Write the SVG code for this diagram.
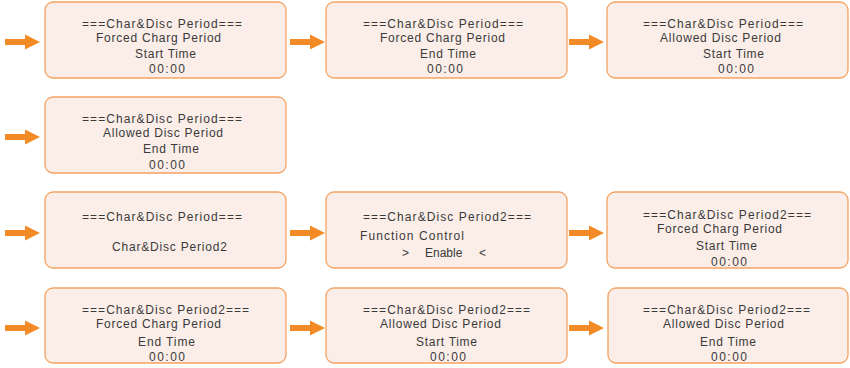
<svg xmlns="http://www.w3.org/2000/svg" xmlns:xlink="http://www.w3.org/1999/xlink" width="850" height="368" viewBox="0 0 850 368">
<style>
.box{fill:#fbeee9;stroke:#f5a362;stroke-width:1.3}
.t{font-family:"Liberation Sans",Arial,sans-serif;font-size:12px;fill:#3a3a3a}
.arr{fill:#f28a25}
</style>
<defs>
<path id="arr" d="M0,-3 H20 V-7.5 L35,0 L20,7.5 V3 H0 Z"/>
</defs>
<rect width="850" height="368" fill="#ffffff"/>
<g id="connectors" class="arr">
<use xlink:href="#arr" x="5" y="42"/>
<use xlink:href="#arr" x="290" y="42"/>
<use xlink:href="#arr" x="569" y="42"/>
<use xlink:href="#arr" x="5" y="137"/>
<use xlink:href="#arr" x="5" y="233"/>
<use xlink:href="#arr" x="290" y="233"/>
<use xlink:href="#arr" x="569" y="233"/>
<use xlink:href="#arr" x="5" y="328"/>
<use xlink:href="#arr" x="290" y="328"/>
<use xlink:href="#arr" x="569" y="328"/>
</g>
<g id="node1">
<rect class="box" x="45" y="2" width="241" height="76" rx="8"/>
<text class="t" x="82" y="28" textLength="160">===Char&amp;Disc Period===</text>
<text class="t" x="96" y="42" textLength="125">Forced Charg Period</text>
<text class="t" x="135" y="58" textLength="61">Start Time</text>
<text class="t" x="149" y="73" textLength="36">00:00</text>
</g>
<g id="node2">
<rect class="box" x="326" y="2" width="241" height="76" rx="8"/>
<text class="t" x="363" y="28" textLength="160">===Char&amp;Disc Period===</text>
<text class="t" x="380" y="42" textLength="125">Forced Charg Period</text>
<text class="t" x="420" y="58" textLength="56">End Time</text>
<text class="t" x="427" y="73" textLength="36">00:00</text>
</g>
<g id="node3">
<rect class="box" x="607" y="2" width="241" height="76" rx="8"/>
<text class="t" x="643" y="28" textLength="160">===Char&amp;Disc Period===</text>
<text class="t" x="660" y="42" textLength="121">Allowed Disc Period</text>
<text class="t" x="703" y="58" textLength="61">Start Time</text>
<text class="t" x="718" y="73" textLength="36">00:00</text>
</g>
<g id="node4">
<rect class="box" x="45" y="97" width="241" height="76" rx="8"/>
<text class="t" x="82" y="123" textLength="160">===Char&amp;Disc Period===</text>
<text class="t" x="103" y="137" textLength="120">Allowed Disc Period</text>
<text class="t" x="143" y="153" textLength="56">End Time</text>
<text class="t" x="149" y="169" textLength="36">00:00</text>
</g>
<g id="node5">
<rect class="box" x="45" y="192" width="241" height="76" rx="8"/>
<text class="t" x="82" y="221" textLength="160">===Char&amp;Disc Period===</text>
<text class="t" x="112" y="251" textLength="115">Char&amp;Disc Period2</text>
</g>
<g id="node6">
<rect class="box" x="326" y="192" width="241" height="76" rx="8"/>
<text class="t" x="363" y="221" textLength="168">===Char&amp;Disc Period2===</text>
<text class="t" x="360" y="240" textLength="104">Function Control</text>
<text class="t" y="257"><tspan x="402">&gt;</tspan><tspan x="425">Enable</tspan><tspan x="479">&lt;</tspan></text>
</g>
<g id="node7">
<rect class="box" x="607" y="192" width="241" height="76" rx="8"/>
<text class="t" x="643" y="219" textLength="168">===Char&amp;Disc Period2===</text>
<text class="t" x="657" y="233" textLength="125">Forced Charg Period</text>
<text class="t" x="696" y="250" textLength="61">Start Time</text>
<text class="t" x="711" y="266" textLength="36">00:00</text>
</g>
<g id="node8">
<rect class="box" x="45" y="288" width="241" height="75" rx="8"/>
<text class="t" x="82" y="314" textLength="167">===Char&amp;Disc Period2===</text>
<text class="t" x="96" y="328" textLength="125">Forced Charg Period</text>
<text class="t" x="138" y="346" textLength="57">End Time</text>
<text class="t" x="149" y="361" textLength="36">00:00</text>
</g>
<g id="node9">
<rect class="box" x="326" y="288" width="241" height="75" rx="8"/>
<text class="t" x="363" y="314" textLength="167">===Char&amp;Disc Period2===</text>
<text class="t" x="380" y="328" textLength="121">Allowed Disc Period</text>
<text class="t" x="416" y="346" textLength="61">Start Time</text>
<text class="t" x="430" y="361" textLength="36">00:00</text>
</g>
<g id="node10">
<rect class="box" x="608" y="288" width="240" height="75" rx="8"/>
<text class="t" x="643" y="314" textLength="167">===Char&amp;Disc Period2===</text>
<text class="t" x="663" y="328" textLength="121">Allowed Disc Period</text>
<text class="t" x="700" y="346" textLength="56">End Time</text>
<text class="t" x="711" y="361" textLength="36">00:00</text>
</g>
</svg>
